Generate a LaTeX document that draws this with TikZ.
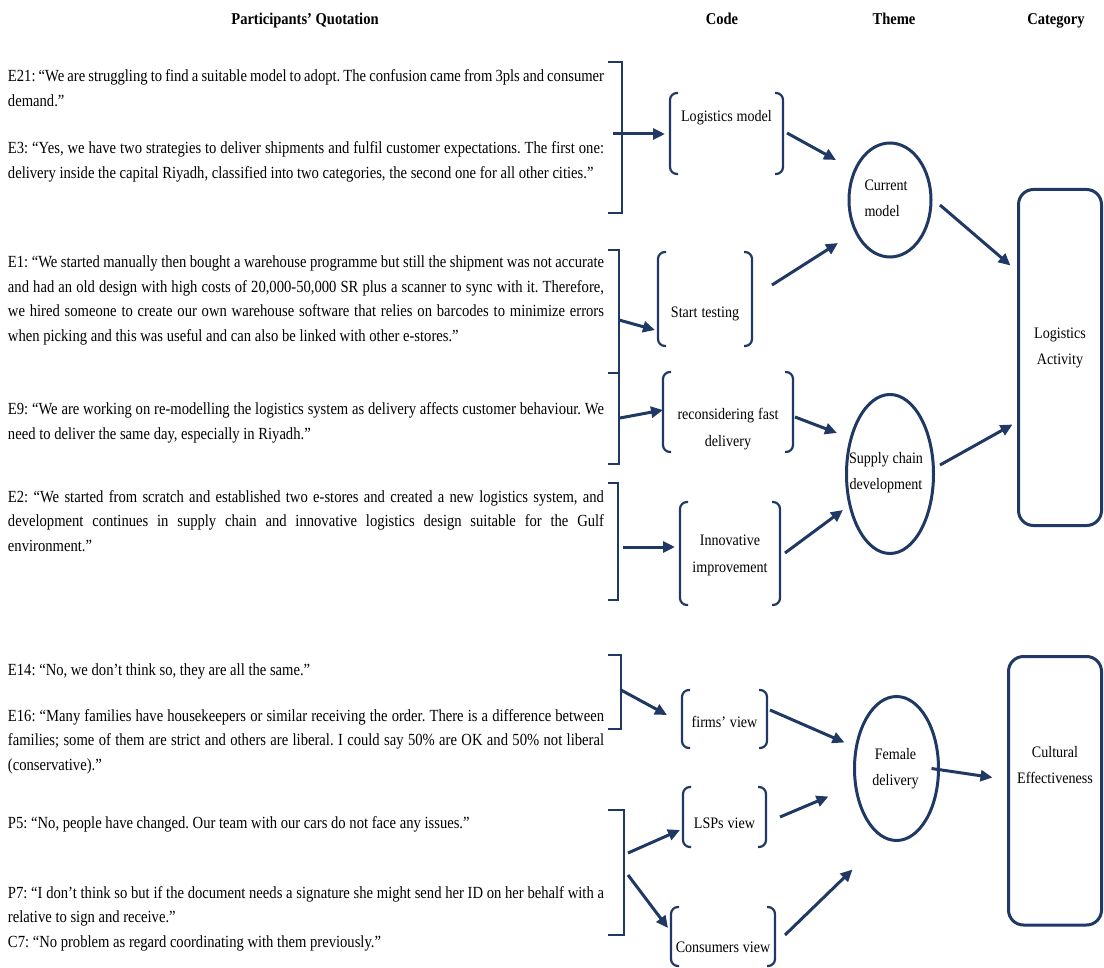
\documentclass[tikz,border=0pt]{standalone}
\usepackage{fontspec}
\setmainfont{Liberation Serif}[FakeStretch=0.88]
\newfontfamily\quotefont{Liberation Serif}[FakeStretch=0.86]
\usetikzlibrary{shapes.geometric,arrows.meta}
\definecolor{navy}{HTML}{1F3864}

% parenthesis-like frame around a code node
\newcommand\parenframe[1]{%
  \draw[frame] ([xshift=8pt]#1.north west) -- (#1.north west) -- (#1.south west) -- ([xshift=8pt]#1.south west);
  \draw[frame] ([xshift=-8pt]#1.north east) -- (#1.north east) -- (#1.south east) -- ([xshift=-8pt]#1.south east);}
% square bracket closing a group of quotations
\newcommand\groupbracket[1]{%
  \draw[bracket] (#1.north west) -- (#1.north east) -- (#1.south east) -- (#1.south west);}

\begin{document}
\begin{tikzpicture}[x=1pt,y=-1pt,
  every node/.style={inner sep=0pt, outer sep=0pt},
  tight/.style={execute at begin node={\spaceskip=3.6pt plus 1pt minus 1pt\relax}},
  quote/.style={anchor=base west, text width=596pt, align=justify,
    font=\quotefont\fontsize{17}{24.5}\selectfont,
    execute at begin node={\frenchspacing\tolerance=10000\relax\hyphenpenalty=10000\relax}},
  head/.style={anchor=base, font=\fontsize{16.5}{19}\selectfont\bfseries},
  code/.style={tight, anchor=north west, align=center, font=\fontsize{16}{27}\selectfont},
  frame/.style={draw=navy, line width=2.2pt, rounded corners=7pt},
  bracket/.style={draw=navy, line width=2.5pt},
  grp/.style={anchor=north west, minimum width=14pt},
  theme/.style={ellipse, draw=navy, line width=3pt},
  themetext/.style={tight, align=center, font=\fontsize{16}{26}\selectfont},
  cat/.style={draw=navy, line width=3pt, rounded corners=15pt, anchor=north west,
    align=center, font=\fontsize{16}{26}\selectfont},
  arr/.style={draw=navy, line width=3pt, -{Triangle[length=12pt,width=11pt]}},
]
\useasboundingbox (0,0) rectangle (1104,968);

% column headings
\node[head] (hq) at (305,25) {Participants’ Quotation};
\node[head] (hc) at (722,25) {Code};
\node[head] (ht) at (894,25) {Theme};
\node[head] (hk) at (1056,25) {Category};

% quotations
\node[quote] (e21) at (8,82) {E21: “We are struggling to find a suitable model to adopt. The confusion came from 3pls and consumer\linebreak demand.”};
\node[quote] (e3) at (8,154) {E3: “Yes, we have two strategies to deliver shipments and fulfil customer expectations. The first one:\linebreak delivery inside the capital Riyadh, classified into two categories, the second one for all other cities.”};
\node[quote] (e1) at (8,268) {E1: “We started manually then bought a warehouse programme but still the shipment was not accurate\linebreak and had an old design with high costs of 20,000-50,000 SR plus a scanner to sync with it. Therefore,\linebreak we hired someone to create our own warehouse software that relies on barcodes to minimize errors\linebreak when picking and this was useful and can also be linked with other e-stores.”};
\node[quote] (e9) at (8,415) {E9: “We are working on re-modelling the logistics system as delivery affects customer behaviour. We\linebreak need to deliver the same day, especially in Riyadh.”};
\node[quote] (e2) at (8,502) {E2: “We started from scratch and established two e-stores and created a new logistics system, and\linebreak development continues in supply chain and innovative logistics design suitable for the Gulf\linebreak environment.”};
\node[quote] (e14) at (8,675) {E14: “No, we don’t think so, they are all the same.”};
\node[quote] (e16) at (8,721) {E16: “Many families have housekeepers or similar receiving the order. There is a difference between\linebreak families; some of them are strict and others are liberal. I could say 50\% are OK and 50\% not liberal\linebreak (conservative).”};
\node[quote] (p5) at (8,828) {P5: “No, people have changed. Our team with our cars do not face any issues.”};
\node[quote] (p7) at (8,898) {P7: “I don’t think so but if the document needs a signature she might send her ID on her behalf with a\linebreak relative to sign and receive.”};
\node[quote] (c7q) at (8,947) {C7: “No problem as regard coordinating with them previously.”};

% brackets grouping the quotations
\node[grp, minimum height=151pt] (b1) at (608,62) {};
\node[grp, minimum width=11pt, minimum height=214pt] (b2) at (608,250) {};
\node[grp, minimum width=10pt, minimum height=117pt] (b3) at (608,483) {};
\node[grp, minimum width=13pt, minimum height=74pt] (b4) at (608,655) {};
\node[grp, minimum width=16pt, minimum height=125pt] (b5) at (608,810) {};
\groupbracket{b1}
\groupbracket{b2}
\groupbracket{b3}
\groupbracket{b4}
\groupbracket{b5}
\draw[bracket] ([shift={(0,16)}]b2.west) -- ([shift={(0,16)}]b2.east);

% codes
\node[code, text width=113pt, text height=29pt, text depth=52pt] (c1) at (670,93) {Logistics model};
\node[code, text width=94pt, text height=66pt, text depth=28pt] (c2) at (658,252) {Start testing};
\node[code, text width=130pt, text height=48pt, text depth=32pt] (c3) at (663,372) {reconsidering fast\\delivery};
\node[code, text width=100pt, text height=43pt, text depth=60pt] (c4) at (680,502) {Innovative\\improvement};
\node[code, text width=85pt, text height=37pt, text depth=21pt] (c5) at (682,690) {firms’ view};
\node[code, text width=83pt, text height=41pt, text depth=19pt] (c6) at (683,787) {LSPs view};
\node[code, text width=104pt, text height=45pt, text depth=14pt] (c7) at (671,907) {Consumers view};
\foreach \c in {c1,c2,c3,c4,c5,c6,c7} {\parenframe{\c}}

% themes
\node[theme, minimum width=82pt, minimum height=114pt] (t1) at (890,200) {};
\node[themetext, align=left] (t1x) at ([shift={(-4,-2)}]t1.center) {Current\\model};
\node[theme, minimum width=87pt, minimum height=159pt] (t2) at (890,474) {};
\node[themetext] (t2x) at ([shift={(-4,-1)}]t2.center) {Supply chain\\development};
\node[theme, minimum width=84pt, minimum height=144pt] (t3) at (896.5,768.5) {};
\node[themetext] (t3x) at ([shift={(-1,0)}]t3.center) {Female\\delivery};

% categories
\node[cat, text width=83pt, text height=149.5pt, text depth=186.5pt] (k1) at (1018.5,189.5) {Logistics\\Activity};
\node[cat, text width=93pt, text height=100.5pt, text depth=168pt] (k2) at (1008.5,656.5) {Cultural\\Effectiveness};

% quotations -> codes
\draw[arr] ([shift={(-9,72)}]b1.north east) -- ([shift={(-5,41)}]c1.north west);
\draw[arr] ([shift={(0,70)}]b2.north east) -- ([shift={(-3,78)}]c2.north west);
\draw[arr] ([shift={(1,168)}]b2.north east) -- ([shift={(0,38)}]c3.north west);
\draw[arr] ([shift={(5,64)}]b3.north east) -- ([shift={(-5,45)}]c4.north west);
\draw[arr] ([shift={(0,35)}]b4.north east) -- ([shift={(-15,25)}]c5.north west);
\draw[arr] ([shift={(4,43)}]b5.north east) -- ([shift={(-3,43)}]c6.north west);
\draw[arr] ([shift={(4,65)}]b5.north east) -- ([shift={(-3,21)}]c7.north west);

% codes -> themes
\draw[arr] ([shift={(4,40)}]c1.north east) -- ([shift={(-54,-40)}]t1.center);
\draw[arr] ([shift={(20,33)}]c2.north east) -- ([shift={(-52,43)}]t1.center);
\draw[arr] ([shift={(2,45)}]c3.north east) -- ([shift={(-53,-41)}]t2.center);
\draw[arr] ([shift={(5,51)}]c4.north east) -- ([shift={(-47,36)}]t2.center);
\draw[arr] ([shift={(3,20)}]c5.north east) -- ([shift={(-52,-26)}]t3.center);
\draw[arr] ([shift={(14,30)}]c6.north east) -- ([shift={(-68,28)}]t3.center);
\draw[arr] ([shift={(10,28)}]c7.north east) -- ([shift={(-44,101)}]t3.center);

% themes -> categories
\draw[arr] ([shift={(50,5)}]t1.center) -- ([shift={(-8,76)}]k1.north west);
\draw[arr] ([shift={(50,-9)}]t2.center) -- ([shift={(-6,235)}]k1.north west);
\draw[arr] ([shift={(35,0)}]t3.center) -- ([shift={(-16,121)}]k2.north west);
\end{tikzpicture}
\end{document}
